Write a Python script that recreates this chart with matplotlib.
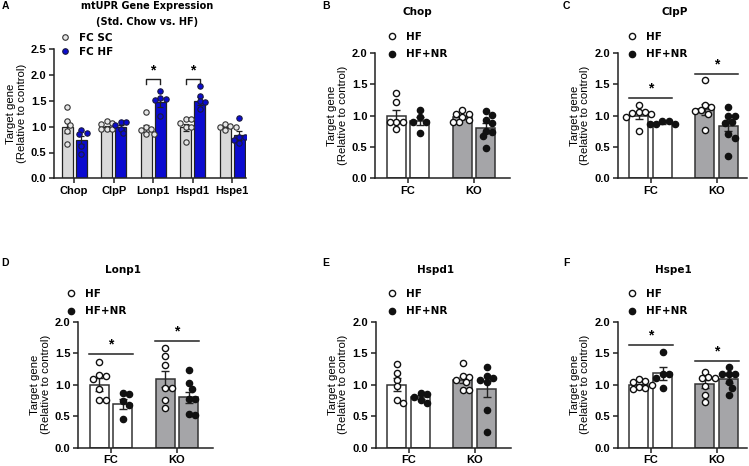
import matplotlib
matplotlib.use("Agg")
import matplotlib.pyplot as plt
from matplotlib.lines import Line2D
import numpy as np

plt.rcParams['font.family'] = ['Liberation Sans', 'DejaVu Sans']
plt.rcParams['font.weight'] = 'bold'

W, H = 749, 466

# ---------------- panel A data ----------------
genes = ['Chop', 'ClpP', 'Lonp1', 'Hspd1', 'Hspe1']
sc_mean = [1.00, 0.99, 0.97, 0.99, 0.99]
sc_sem = [0.12, 0.03, 0.07, 0.07, 0.02]
hf_mean = [0.74, 1.00, 1.47, 1.50, 0.83]
hf_sem = [0.08, 0.04, 0.08, 0.08, 0.08]
sc_pts = [[1.39, 1.12, 1.03, 0.92, 0.66],
          [1.11, 1.07, 1.05, 0.96, 0.95, 0.95],
          [1.28, 0.99, 0.95, 0.94, 0.86, 0.86],
          [1.14, 1.14, 1.08, 0.99, 0.99, 0.71],
          [1.05, 1.02, 0.99, 0.99, 0.94]]
hf_pts = [[0.94, 0.87, 0.86, 0.63, 0.47],
          [1.10, 1.09, 1.03, 0.95, 0.87],
          [1.69, 1.55, 1.53, 1.52, 1.20],
          [1.79, 1.60, 1.49, 1.48, 1.34],
          [1.16, 0.81, 0.81, 0.74, 0.69]]
a_sig_genes = ['Lonp1', 'Hspd1']
a_sig_y = 1.92

# ---------------- panels B-F data ----------------
groups = ['FC', 'KO']
# order of bars in each panel: FC-HF, FC-HF+NR, KO-HF, KO-HF+NR
chop_mean = [1.00, 0.91, 0.97, 0.81]
chop_sem = [0.09, 0.06, 0.03, 0.07]
chop_pts = [[1.36, 1.22, 0.90, 0.90, 0.90, 0.79],
            [1.09, 0.97, 0.90, 0.90, 0.73],
            [1.09, 1.03, 1.03, 0.97, 0.93, 0.89, 0.89],
            [1.08, 1.01, 0.93, 0.88, 0.76, 0.74, 0.68, 0.48]]
chop_sig = [None, None]

clpp_mean = [1.00, 0.88, 1.10, 0.84]
clpp_sem = [0.05, 0.02, 0.09, 0.09]
clpp_pts = [[1.17, 1.06, 1.05, 1.04, 1.03, 0.98, 0.75],
            [0.92, 0.92, 0.86, 0.86, 0.86],
            [1.56, 1.17, 1.13, 1.09, 1.08, 1.03, 0.77],
            [1.14, 0.99, 0.99, 0.90, 0.88, 0.71, 0.65, 0.35]]
clpp_sig = [1.28, 1.67]

lonp_mean = [1.00, 0.69, 1.09, 0.80]
lonp_sem = [0.10, 0.08, 0.13, 0.09]
lonp_pts = [[1.37, 1.16, 1.14, 1.09, 0.93, 0.76, 0.76],
            [0.87, 0.86, 0.74, 0.68, 0.45],
            [1.58, 1.46, 1.31, 0.95, 0.95, 0.76, 0.63],
            [1.23, 1.02, 0.94, 0.77, 0.77, 0.54, 0.52]]
lonp_sig = [1.49, 1.70]

hspd_mean = [1.00, 0.80, 1.08, 0.93]
hspd_sem = [0.10, 0.03, 0.05, 0.13]
hspd_pts = [[1.33, 1.19, 1.08, 0.98, 0.75, 0.71],
            [0.87, 0.85, 0.81, 0.76, 0.71],
            [1.34, 1.14, 1.13, 1.07, 1.05, 0.92, 0.91],
            [1.29, 1.14, 1.11, 1.07, 1.04, 0.59, 0.25]]
hspd_sig = [None, None]

hspe_mean = [0.99, 1.18, 1.01, 1.09]
hspe_sem = [0.02, 0.10, 0.06, 0.06]
hspe_pts = [[1.09, 1.06, 1.05, 1.00, 0.97, 0.95, 0.93],
            [1.52, 1.17, 1.17, 1.10, 0.95],
            [1.20, 1.12, 1.11, 1.11, 0.98, 0.84, 0.73],
            [1.28, 1.17, 1.17, 1.17, 1.04, 0.95, 0.83]]
hspe_sig = [1.64, 1.38]


def swarm(vals, xpx, ypx, d=6.0):
    # simple beeswarm: returns x offsets in data units
    vals = np.asarray(vals)
    offs = np.zeros(len(vals))
    placed = []
    for i in np.argsort(-vals):
        y = vals[i] * ypx
        for k in [0, 1, -1, 2, -2, 3, -3, 4, -4]:
            x = k * d * 0.5
            if all((x - px) ** 2 + (y - py) ** 2 >= d * d * 0.8 for px, py in placed):
                break
        placed.append((x, y))
        offs[i] = x / xpx
    return offs


def rect(left, right, bottom, top):
    return [left / W, 1 - bottom / H, (right - left) / W, (bottom - top) / H]


def style_ax(ax):
    for s in ['top', 'right']:
        ax.spines[s].set_visible(False)
    for s in ['left', 'bottom']:
        ax.spines[s].set_linewidth(1.1)
        ax.spines[s].set_color('#222222')
    ax.tick_params(width=1.1, length=3.5, labelsize=8, color='#222222', pad=2)
    ax.set_ylabel('Target gene\n(Relative to control)', fontsize=8.2, labelpad=3,
                  linespacing=1.05)


fig = plt.figure(figsize=(W / 100, H / 100), dpi=100)

# ---------------- panel A ----------------
axA = fig.add_axes(rect(54, 246, 178.3, 49.3))
xa = np.arange(len(genes))
off, bw = 0.18, 0.28
axA.bar(xa - off, sc_mean, bw, color='#d9d9d9', edgecolor='#222222', lw=0.9, zorder=1)
axA.bar(xa + off, hf_mean, bw, color='#0b0bd0', edgecolor='#222222', lw=0.9, zorder=1)
axA.errorbar(xa - off, sc_mean, yerr=sc_sem, fmt='none', ecolor='#222222',
             elinewidth=0.9, capsize=2.5, capthick=0.9, zorder=3)
axA.errorbar(xa + off, hf_mean, yerr=hf_sem, fmt='none', ecolor='#222222',
             elinewidth=0.9, capsize=2.5, capthick=0.9, zorder=3)
for i in range(len(genes)):
    axA.scatter(xa[i] - off + swarm(sc_pts[i], 39.5, 51.6, 5.4), sc_pts[i], s=15,
                facecolor='#e6e6e6', edgecolor='#333333', lw=0.8, zorder=4)
    axA.scatter(xa[i] + off + swarm(hf_pts[i], 39.5, 51.6, 5.4), hf_pts[i], s=15,
                facecolor='#0b0bd0', edgecolor='#1a1a40', lw=0.8, zorder=4)
for g in a_sig_genes:
    i = genes.index(g)
    axA.plot([i - off, i - off, i + off, i + off],
             [a_sig_y - 0.1, a_sig_y, a_sig_y, a_sig_y - 0.1], color='#222222', lw=1.0)
    axA.text(i, a_sig_y + 0.04, '*', ha='center', va='bottom', fontsize=10)
axA.set_xlim(-0.51, 4.35)
axA.set_ylim(0, 2.5)
axA.set_yticks(np.arange(0, 2.51, 0.5))
axA.set_yticklabels(['%.1f' % v for v in np.arange(0, 2.51, 0.5)])
axA.set_xticks(xa)
axA.set_xticklabels(genes)
style_ax(axA)
axA.legend([Line2D([], [], ls='none', marker='o', ms=4.0, mfc='#e6e6e6', mec='#333333', mew=0.8),
            Line2D([], [], ls='none', marker='o', ms=4.0, mfc='#0b0bd0', mec='#1a1a40', mew=0.8)],
           ['FC SC', 'FC HF'], loc='upper left', bbox_to_anchor=(61 / W, 1 - 33 / H),
           bbox_transform=fig.transFigure, frameon=False, handlelength=0.8,
           handletextpad=0.9, borderpad=0, borderaxespad=0, labelspacing=0.35,
           prop={'family': 'DejaVu Sans', 'weight': 'bold', 'size': 7.5})
fig.text(147 / W, 1 - 6 / H, 'mtUPR Gene Expression', ha='center', va='center',
         fontsize=7, family='DejaVu Sans', weight='bold')
fig.text(147 / W, 1 - 22 / H, '(Std. Chow vs. HF)', ha='center', va='center',
         fontsize=7, family='DejaVu Sans', weight='bold')

# ---------------- panels B-F ----------------
panels = [
    ('B', 'Chop', chop_mean, chop_sem, chop_pts, chop_sig, (375, 510, 178.3, 52.9), (326, 6), (417, 12)),
    ('C', 'ClpP', clpp_mean, clpp_sem, clpp_pts, clpp_sig, (617.5, 747, 178.3, 52.9), (566, 6), (675, 12)),
    ('D', 'Lonp1', lonp_mean, lonp_sem, lonp_pts, lonp_sig, (78, 213, 447.5, 322), (5, 263), (123, 270)),
    ('E', 'Hspd1', hspd_mean, hspd_sem, hspd_pts, hspd_sig, (375.7, 510.7, 447.5, 322), (326, 263), (436, 270)),
    ('F', 'Hspe1', hspe_mean, hspe_sem, hspe_pts, hspe_sig, (617.8, 747, 447.5, 322), (566, 263), (673, 270)),
]

bar_x = [-0.18, 0.18, 0.82, 1.18]
bar_fc = ['white', 'white', '#a5a5a8', '#a5a5a8']
pt_fc = ['white', '#111111', 'white', '#111111']
bw2 = 0.29

for letter, title, mean, sem, pts, sig, r, lpos, tpos in panels:
    ax = fig.add_axes(rect(*r))
    ax.bar(bar_x, mean, bw2, color=bar_fc, edgecolor='#333333', lw=1.1, zorder=1)
    ax.errorbar(bar_x, mean, yerr=sem, fmt='none', ecolor='#222222',
                elinewidth=1.0, capsize=2.8, capthick=1.0, zorder=3)
    for j in range(4):
        ax.scatter(bar_x[j] + swarm(pts[j], 66, 62.7, 6.4), pts[j], s=20,
                   facecolor=pt_fc[j], edgecolor='#111111', lw=1.0, zorder=4)
    for k, y in enumerate(sig):
        if y is None:
            continue
        ax.plot([k - 0.33, k + 0.33], [y, y], color='#222222', lw=1.1, clip_on=False)
        ax.text(k, y + 0.04, '*', ha='center', va='bottom', fontsize=10, clip_on=False)
    xlim_right = (r[1] - r[0]) / 66 - 0.5
    ax.set_xlim(-0.5, xlim_right)
    ax.set_ylim(0, 2.0)
    ax.set_yticks(np.arange(0, 2.01, 0.5))
    ax.set_yticklabels(['%.1f' % v for v in np.arange(0, 2.01, 0.5)])
    ax.set_xticks([0, 1])
    ax.set_xticklabels(groups)
    style_ax(ax)
    ax.legend([Line2D([], [], ls='none', marker='o', ms=4.5, mfc='white', mec='#111111', mew=1.0),
               Line2D([], [], ls='none', marker='o', ms=4.5, mfc='#111111', mec='#111111', mew=1.0)],
              ['HF', 'HF+NR'], loc='upper left',
              bbox_to_anchor=((lpos[0] + 62) / W, 1 - (lpos[1] + 26) / H),
              bbox_transform=fig.transFigure, frameon=False, handlelength=0.8,
              handletextpad=0.9, borderpad=0, borderaxespad=0, labelspacing=0.7,
              prop={'family': 'DejaVu Sans', 'weight': 'bold', 'size': 7.5})
    fig.text(lpos[0] / W, 1 - lpos[1] / H, letter, ha='center', va='center',
             fontsize=7.5, weight='bold')
    fig.text(tpos[0] / W, 1 - tpos[1] / H, title, ha='center', va='center',
             fontsize=7.5, family='DejaVu Sans', weight='bold')

fig.text(5 / W, 1 - 6 / H, 'A', ha='center', va='center', fontsize=7.5, weight='bold')

fig.savefig('out.png', dpi=100)
